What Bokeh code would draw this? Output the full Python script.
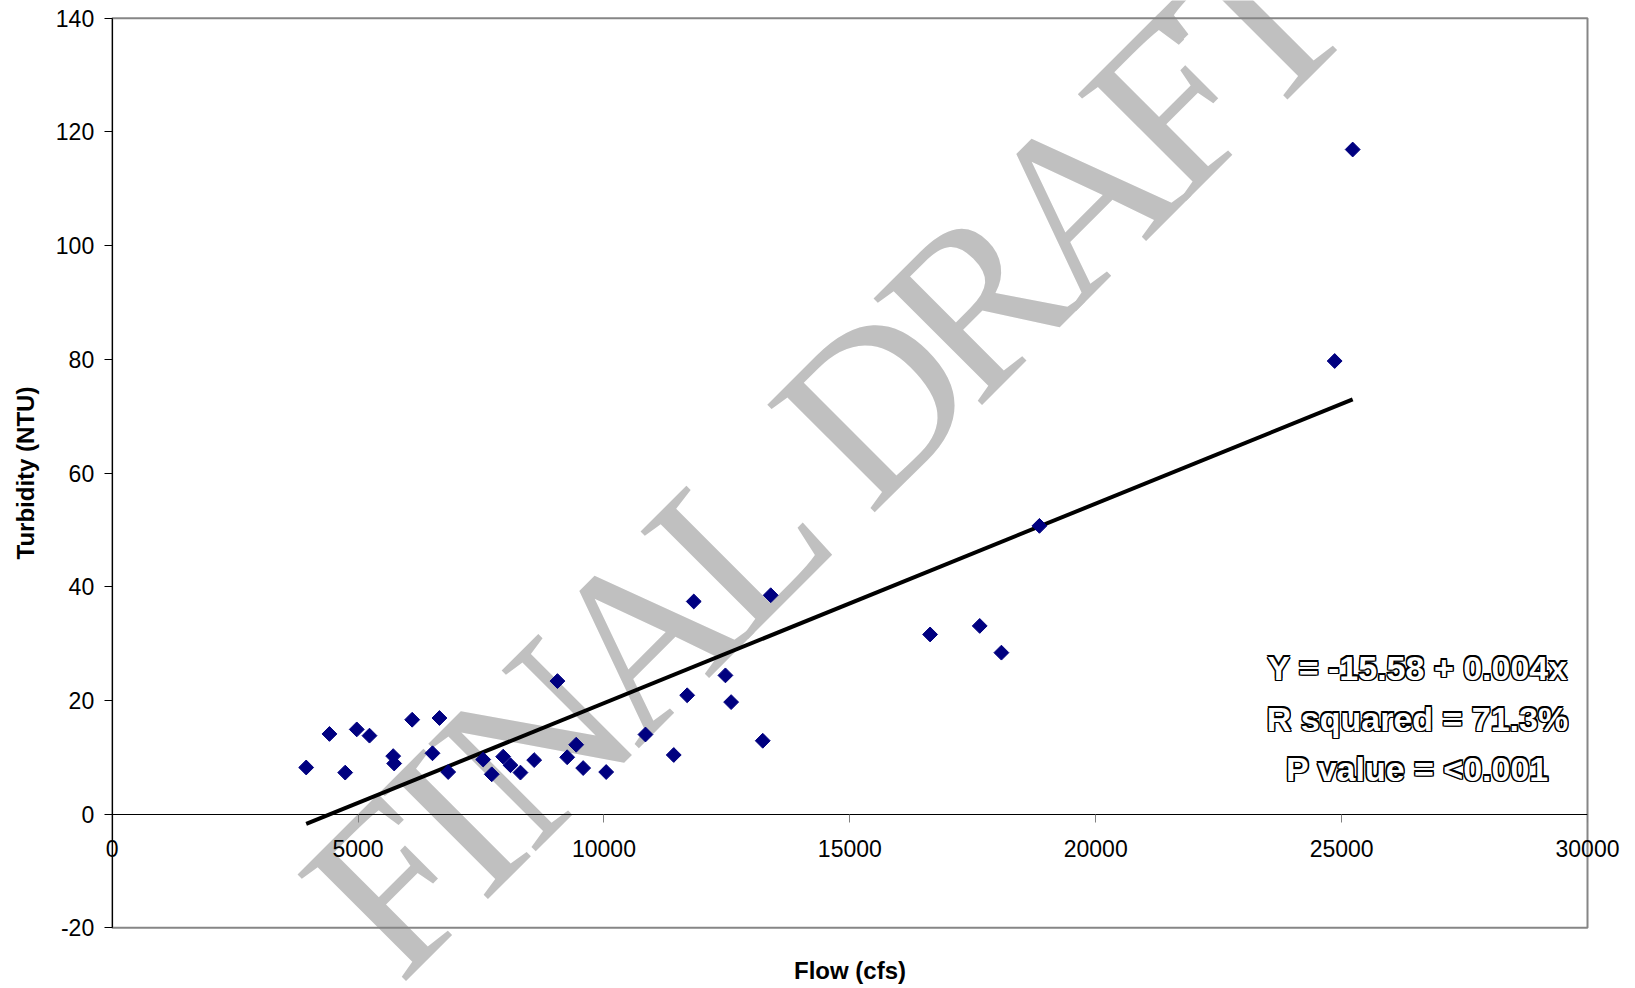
import math
from bokeh.plotting import figure
from bokeh.models import Range1d, FixedTicker
from bokeh.embed import file_html
from bokeh.resources import INLINE
from bokeh.core.properties import value

# ---- data ----
flow = [3945, 4418, 4738, 4973, 5232, 5714, 5734, 6100, 6513, 6655,
        6832, 7544, 7718, 7950, 8099, 8302, 8581, 9054, 9252, 9435,
        9577, 10045, 10844, 11419, 11692, 11826, 12470, 12586, 13229, 13391,
        16632, 17641, 18082, 18855, 24859, 25225]
turbidity = [8.2, 14.1, 7.3, 14.9, 13.8, 10.2, 8.9, 16.6, 10.7, 16.9,
             7.4, 9.6, 7.0, 10.1, 8.6, 7.3, 9.5, 23.4, 10.0, 12.2,
             8.1, 7.4, 14.0, 10.4, 20.9, 37.4, 24.4, 19.7, 12.9, 38.5,
             31.6, 33.1, 28.4, 50.7, 79.7, 116.9]
fit_intercept = -15.58
fit_slope = 0.00351
x_ticks = [0, 5000, 10000, 15000, 20000, 25000, 30000]
y_ticks = [-20, 0, 20, 40, 60, 80, 100, 120, 140]
stats_lines = ["Y = -15.58 + 0.004x", "R squared = 71.3%", "P value = <0.001"]
watermark = "FINAL DRAFT"

fit_x = [min(flow), max(flow)]
fit_y = [fit_intercept + fit_slope * v for v in fit_x]

FONT = "Liberation Sans"

# ---- layout: the frame fills the canvas; the data box sits inside it ----
W, H = 1627, 986
BOX_L, BOX_R, BOX_T, BOX_B = 111.7, 1587.0, 17.7, 927.3   # pixel edges of the data box
sx = (BOX_R - BOX_L) / (x_ticks[-1] - x_ticks[0])
sy = (BOX_B - BOX_T) / (y_ticks[-1] - y_ticks[0])
x0 = x_ticks[0] - BOX_L / sx
x1 = x0 + W / sx
y1 = y_ticks[-1] + BOX_T / sy
y0 = y1 - H / sy


def px_to_data(px, py):
    return x0 + px / sx, y1 - py / sy


p = figure(width=W, height=H, output_backend="svg", toolbar_location=None,
           x_range=Range1d(x0, x1), y_range=Range1d(y0, y1),
           min_border=0, min_border_left=0, min_border_right=0,
           min_border_top=0, min_border_bottom=0)
p.background_fill_color = "white"
p.border_fill_color = "white"
p.outline_line_color = None
p.grid.visible = False

# ---- watermark (letters placed along a 45 degree baseline) ----
wm_adv = {"F": 0.556, "I": 0.333, "N": 0.722, "A": 0.722, "L": 0.611, " ": 0.25,
          "D": 0.722, "R": 0.667, "T": 0.611}
wm_size = 232
wm_step = 208.0          # pixels per em along the baseline
ang = math.radians(45)
ux, uy = math.cos(ang), -math.sin(ang)
d_origin = (814.0, 461.0)
before_d = sum(wm_adv[c] for c in watermark[:watermark.index("D")])
sx0 = d_origin[0] - before_d * wm_step * ux
sy0 = d_origin[1] - before_d * wm_step * uy
wm_x, wm_y, wm_t = [], [], []
cum = 0.0
for ch in watermark:
    if ch != " ":
        dx, dy = px_to_data(sx0 + cum * wm_step * ux, sy0 + cum * wm_step * uy)
        wm_x.append(dx)
        wm_y.append(dy)
        wm_t.append(ch)
    cum += wm_adv[ch]
p.text(x=wm_x, y=wm_y, text=wm_t, angle=ang, text_align="left",
       text_baseline="alphabetic", text_font=value("Liberation Serif"),
       text_font_size=f"{wm_size}px", text_color="#C0C0C0")

# ---- plot-area border ----
p.quad(left=[x_ticks[0]], right=[x_ticks[-1]], bottom=[y_ticks[0]], top=[y_ticks[-1]],
       fill_color=None, line_color="#868686", line_width=2)

# ---- axes ----
xa = p.xaxis[0]
xa.fixed_location = 0
xa.bounds = (x_ticks[0], x_ticks[-1])
xa.ticker = FixedTicker(ticks=x_ticks)
xa.minor_tick_line_color = None
xa.major_tick_in = 0
xa.major_tick_out = 8
xa.major_tick_line_color = "#808080"
xa.axis_line_color = "black"
xa.major_label_text_font = FONT
xa.major_label_text_font_size = "23px"
xa.major_label_text_color = "black"
xa.major_label_standoff = 18
xa.axis_label = "Flow (cfs)"
xa.axis_label_text_font = FONT
xa.axis_label_text_font_size = "24px"
xa.axis_label_text_font_style = "bold"
xa.axis_label_text_color = "black"
xa.axis_label_standoff = 96

ya = p.yaxis[0]
ya.fixed_location = 0
ya.bounds = (y_ticks[0], y_ticks[-1])
ya.ticker = FixedTicker(ticks=y_ticks)
ya.major_label_overrides = {t: str(t) for t in y_ticks}
ya.minor_tick_line_color = None
ya.major_tick_in = 0
ya.major_tick_out = 8
ya.major_tick_line_color = "black"
ya.axis_line_color = "black"
ya.major_label_text_font = FONT
ya.major_label_text_font_size = "23px"
ya.major_label_text_color = "black"
ya.major_label_standoff = 10
ya.axis_label = "Turbidity (NTU)"
ya.axis_label_text_font = FONT
ya.axis_label_text_font_size = "24px"
ya.axis_label_text_font_style = "bold"
ya.axis_label_text_color = "black"
ya.axis_label_standoff = 14

# ---- regression line and points ----
p.line(fit_x, fit_y, line_color="black", line_width=4)
p.scatter(flow, turbidity, marker="square", angle=math.pi / 4, size=10.5,
          fill_color="#000080", line_color="#000080")

# ---- statistics text: white letters with a heavy black outline ----
stat_cx, _ = px_to_data(1417, 0)
stat_y = [px_to_data(0, py)[1] for py in (667, 718, 768)]
off = 1.3
for ox, oy in [(-off, 0), (off, 0), (0, -off), (0, off),
               (-off, -off), (off, off), (-off, off), (off, -off)]:
    p.text(x=[stat_cx + ox / sx] * 3, y=[v + oy / sy for v in stat_y], text=stats_lines,
           text_align="center", text_baseline="middle",
           text_font=value(FONT), text_font_style="bold", text_font_size="34px",
           text_color="black")
p.text(x=[stat_cx] * 3, y=stat_y, text=stats_lines,
       text_align="center", text_baseline="middle",
       text_font=value(FONT), text_font_style="bold", text_font_size="34px",
       text_color="white")

open("out.html", "w").write(file_html(p, INLINE))
